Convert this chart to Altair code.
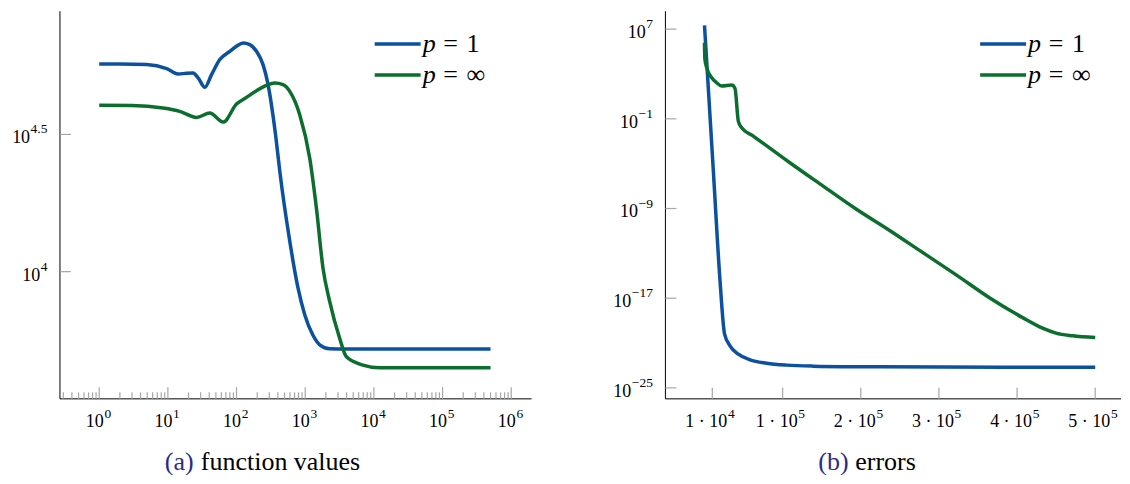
import altair as alt
import pandas as pd

SERIF = "Liberation Serif"
BLUE = "#0b519f"
GREEN = "#0b6e2d"
TICK = "#a6a6a6"
CAP_COLOR = "#2c2c86"

# ---------------- panel (a): function values (log-log) ----------------
a_p1_iter = [1, 2, 4.9, 9.6, 14.1, 18.7, 23.3, 27.6, 34.5, 43.2, 57, 79.7, 99.8, 124.5,
             156, 195, 243, 285, 326, 372, 426, 595, 778, 984, 1286, 1626, 2274, 3760, 500000]
a_p1_val = [57100, 57100, 56800, 54900, 52500, 52800, 52900, 50800, 46950, 52200, 59250, 63500,
            66250, 68100, 67200, 63500, 56800, 48600, 39750, 31170, 23250, 12930, 8817, 6967,
            5890, 5415, 5236, 5225, 5225]
a_pinf_iter = [1, 3, 8.5, 14.9, 26.1, 40.8, 63.7, 99.8, 139.6, 195, 273, 360, 475, 595, 832,
               1164, 1456, 1817, 2274, 3180, 3980, 6930, 12140, 500000]
a_pinf_val = [40350, 40300, 39450, 38370, 36480, 37830, 35060, 40790, 43150, 45640, 47730, 48660,
              48010, 45390, 37320, 25910, 17020, 10280, 7770, 5710, 4895, 4566, 4463, 4463]

a_xtick_vals = [1, 10, 100, 1000, 10000, 100000, 1000000]
a_xtick_exps = ["0", "1", "2", "3", "4", "5", "6"]
a_ytick_vals = [10 ** 4, 10 ** 4.5]
a_ytick_exps = ["4", "4.5"]

# ---------------- panel (b): errors (lin-log) ----------------
b_p1_iter = [0, 11360, 19900, 25660, 32680, 43280, 58210, 79530, 105070, 139030, 224170, 500000]
b_p1_err = [2.2e7, 2.2e-6, 3.5e-16, 6.6e-21, 5.6e-22, 1.0e-22, 3.2e-23, 1.6e-23, 1.07e-23,
            8.7e-24, 7.5e-24, 6.8e-24]
b_pinf_iter = [0, 510, 2940, 9320, 15700, 22090, 34850, 39060, 43280, 47620, 62430, 109280,
               151790, 194430, 236950, 279460, 322100, 364610, 407120, 432660, 449770, 470960, 500000]
b_pinf_err = [6e5, 2.1e4, 3.5e3, 455, 163, 83, 102, 51.6, 0.063, 0.0159, 2.9e-3, 1.2e-5, 1.0e-7,
              8.5e-10, 1.1e-11, 1.15e-13, 1.2e-15, 1.1e-17, 1.85e-19, 2.1e-20, 7.6e-21, 4.4e-21, 3.1e-21]

b_xtick_vals = [10000, 100000, 200000, 300000, 400000, 500000]
b_xtick_mant = ["1", "1", "2", "3", "4", "5"]
b_xtick_exps = ["4", "5", "5", "5", "5", "5"]
b_ytick_vals = [1e7, 1e-1, 1e-9, 1e-17, 1e-25]
b_ytick_exps = ["7", "\u22121", "\u22129", "\u221217", "\u221225"]

series_values = ["1", "\u221e"]
series_colors = [BLUE, GREEN]
captions = [("(a)", "function values"), ("(b)", "errors")]

H = 388
WA = 472
WB = 456

BASE_FS = 18
EXP_FS = 13.5
LEG_FS = 26
CAP_FS = 26

xs_a = alt.Scale(type="log", domain=[10 ** -0.5718, 10 ** 6.2957], nice=False)
ys_a = alt.Scale(type="log", domain=[10 ** 3.5366, 10 ** 4.9489], nice=False)
xs_b = alt.Scale(type="linear", domain=[-50000, 533000], nice=False, zero=False)
ys_b = alt.Scale(type="log", domain=[10 ** -25.98, 10 ** 8.6], nice=False)

ONE = pd.DataFrame({"k": [0]})


def est_width(s, size):
    w = {".": 0.25, "\u2212": 0.564, " ": 0.25, "\u00b7": 0.25}
    return sum(w.get(c, 0.5) for c in s) * size


def line_layer(xv, yv, xs, ys, color):
    df = pd.DataFrame({"x": xv, "y": yv})
    return alt.Chart(df).mark_line(color=color, strokeWidth=3.5, interpolate="monotone").encode(
        x=alt.X("x:Q", scale=xs, axis=None),
        y=alt.Y("y:Q", scale=ys, axis=None),
    )


def axis_lines(W):
    xl = alt.Chart(ONE).mark_rule(color="black", strokeWidth=1).encode(
        x=alt.value(0), x2=alt.value(W), y=alt.value(H))
    yl = alt.Chart(ONE).mark_rule(color="black", strokeWidth=1).encode(
        x=alt.value(0), y=alt.value(0), y2=alt.value(H))
    return [xl, yl]


def xtick_layer(vals, xs, length):
    df = pd.DataFrame({"v": vals})
    return alt.Chart(df).mark_rule(color=TICK, strokeWidth=1.2).encode(
        x=alt.X("v:Q", scale=xs, axis=None), y=alt.value(H), y2=alt.value(H - length))


def ytick_layer(vals, ys, length):
    df = pd.DataFrame({"v": vals})
    return alt.Chart(df).mark_rule(color=TICK, strokeWidth=1.2).encode(
        y=alt.Y("v:Q", scale=ys, axis=None), x=alt.value(0), x2=alt.value(length))


def xlabel_layers(vals, bases, exps, xs, base_dx):
    df = pd.DataFrame({"v": vals, "b": bases, "e": exps})
    base = alt.Chart(df).mark_text(font=SERIF, fontSize=BASE_FS, align="right", baseline="alphabetic",
                                   dx=base_dx, color="black").encode(
        x=alt.X("v:Q", scale=xs, axis=None), y=alt.value(H + 28), text="b:N")
    ex = alt.Chart(df).mark_text(font=SERIF, fontSize=EXP_FS, align="left", baseline="alphabetic",
                                 dx=base_dx + 0.7, color="black").encode(
        x=alt.X("v:Q", scale=xs, axis=None), y=alt.value(H + 19), text="e:N")
    return [base, ex]


def ylabel_layers(vals, exps, ys):
    out = []
    for v, e in zip(vals, exps):
        df = pd.DataFrame({"v": [v], "b": ["10"], "e": [e]})
        wexp = est_width(e, EXP_FS)
        out.append(alt.Chart(df).mark_text(font=SERIF, fontSize=EXP_FS, align="right",
                                           baseline="alphabetic", dx=-12.5, dy=-1,
                                           color="black").encode(
            y=alt.Y("v:Q", scale=ys, axis=None), x=alt.value(0), text="e:N"))
        out.append(alt.Chart(df).mark_text(font=SERIF, fontSize=BASE_FS, align="right",
                                           baseline="alphabetic", dx=-12.5 - wexp - 0.5, dy=8.9,
                                           color="black").encode(
            y=alt.Y("v:Q", scale=ys, axis=None), x=alt.value(0), text="b:N"))
    return out


def legend_layers():
    out = []
    rows_line = [32.7, 63.8]
    rows_base = [41.0, 72.1]
    for i, (val, col) in enumerate(zip(series_values, series_colors)):
        df = pd.DataFrame({"p": ["p"], "eq": ["="], "val": [val]})
        out.append(alt.Chart(df).mark_rule(color=col, strokeWidth=3.5).encode(
            x=alt.value(315), x2=alt.value(361), y=alt.value(rows_line[i])))
        out.append(alt.Chart(df).mark_text(font=SERIF, fontSize=LEG_FS, fontStyle="italic",
                                           align="left", baseline="alphabetic",
                                           color="black").encode(
            x=alt.value(363), y=alt.value(rows_base[i]), text="p:N"))
        out.append(alt.Chart(df).mark_text(font=SERIF, fontSize=LEG_FS, align="center",
                                           baseline="alphabetic", color="black").encode(
            x=alt.value(391), y=alt.value(rows_base[i]), text="eq:N"))
        out.append(alt.Chart(df).mark_text(font=SERIF, fontSize=LEG_FS, align="left",
                                           baseline="alphabetic", color="black").encode(
            x=alt.value(407), y=alt.value(rows_base[i]), text="val:N"))
    return out


def caption_layers(idx, x_label, x_text):
    lab, txt = captions[idx]
    df = pd.DataFrame({"l": [lab], "t": [txt]})
    a = alt.Chart(df).mark_text(font=SERIF, fontSize=CAP_FS, align="left", baseline="alphabetic",
                                color=CAP_COLOR).encode(
        x=alt.value(x_label), y=alt.value(H + 71), text="l:N")
    b = alt.Chart(df).mark_text(font=SERIF, fontSize=CAP_FS, align="left", baseline="alphabetic",
                                color="black").encode(
        x=alt.value(x_text), y=alt.value(H + 71), text="t:N")
    return [a, b]


# minor ticks for the log x axis of panel (a)
lo_a, hi_a = 10 ** -0.5718, 10 ** 6.2957
a_minor = [m * 10.0 ** k for k in range(-1, 7) for m in range(2, 10) if lo_a <= m * 10.0 ** k <= hi_a]

left_layers = (
    [alt.Chart(ONE).mark_rule(color="white").encode(x=alt.value(-51.5), y=alt.value(0), y2=alt.value(1))]
    + axis_lines(WA)
    + [xtick_layer(a_minor, xs_a, 6.5), xtick_layer(a_xtick_vals, xs_a, 11.7),
       ytick_layer(a_ytick_vals, ys_a, 11)]
    + xlabel_layers(a_xtick_vals, ["10"] * len(a_xtick_vals), a_xtick_exps, xs_a, 4.5)
    + ylabel_layers(a_ytick_vals, a_ytick_exps, ys_a)
    + [line_layer(a_p1_iter, a_p1_val, xs_a, ys_a, BLUE),
       line_layer(a_pinf_iter, a_pinf_val, xs_a, ys_a, GREEN)]
    + legend_layers()
    + caption_layers(0, 105, 141)
)
left = alt.layer(*left_layers).properties(width=WA, height=H)

right_layers = (
    axis_lines(WB)
    + [xtick_layer(b_xtick_vals, xs_b, 11), ytick_layer(b_ytick_vals, ys_b, 11)]
    + xlabel_layers(b_xtick_vals, [m + " \u00b7 10" for m in b_xtick_mant], b_xtick_exps, xs_b, 15)
    + ylabel_layers(b_ytick_vals, b_ytick_exps, ys_b)
    + [line_layer(b_p1_iter, b_p1_err, xs_b, ys_b, BLUE),
       line_layer(b_pinf_iter, b_pinf_err, xs_b, ys_b, GREEN)]
    + legend_layers()
    + caption_layers(1, 153, 190)
)
right = alt.layer(*right_layers).properties(width=WB, height=H)

chart = alt.hconcat(left, right, spacing=134, bounds="flush").properties(
    padding={"left": 0, "top": 2, "right": 0, "bottom": 0}
).configure_view(stroke=None)

chart.save("out.html", embed_options={"renderer": "svg", "actions": False})
